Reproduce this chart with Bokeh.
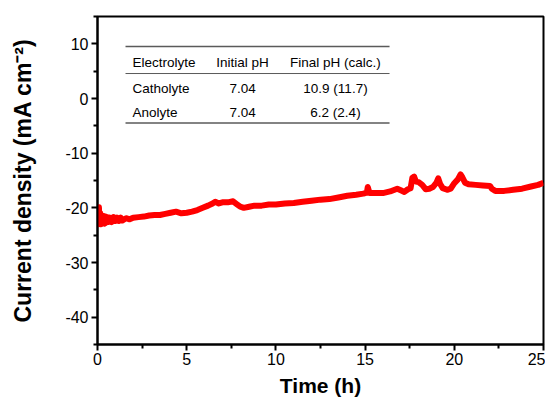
from bokeh.plotting import figure
from bokeh.models import FixedTicker, Range1d
from bokeh.core.properties import value
from bokeh.embed import file_html
from bokeh.resources import INLINE

# ---- data ----
time_h = [0, 0.04, 0.08, 0.12, 0.16, 0.2, 0.25, 0.3, 0.35, 0.4, 0.45, 0.5, 0.55,
          0.6, 0.7, 0.8, 0.9, 1.0, 1.1, 1.2, 1.3, 1.4, 1.6, 1.8, 2.0, 2.3, 2.6,
          2.9, 3.2, 3.5, 3.8, 4.1, 4.4, 4.7,
          5.0, 5.3, 5.6, 5.9, 6.2, 6.45, 6.6, 6.8, 7.0, 7.3, 7.6, 7.8, 8.0, 8.2,
          8.5, 8.8, 9.2, 9.6, 10.0, 10.5, 11.0, 11.5, 12.0, 12.5, 13.0, 13.5,
          14.0, 14.5, 14.9, 15.1, 15.15, 15.25, 15.5, 16.0, 16.4, 16.8, 17.0,
          17.2, 17.4, 17.55, 17.65, 17.75, 17.85, 18.0, 18.2, 18.4, 18.6, 18.8,
          19.0, 19.1, 19.2, 19.35, 19.6, 19.8, 20.0, 20.2, 20.35, 20.45, 20.6,
          20.8, 21.2, 21.6, 22.0, 22.1, 22.3, 22.8, 23.3, 23.8, 24.3, 24.7, 25.0]
current_density = [-21.0, -23.0, -19.9, -22.8, -21.0, -23.0, -21.4, -22.8, -21.5,
                   -22.9, -21.6, -22.7, -21.7, -22.6, -21.8, -22.6, -21.7, -22.4,
                   -21.8, -22.4, -21.8, -22.3, -21.9, -22.1,
                   -21.8, -21.7, -21.6, -21.4, -21.3, -21.3, -21.1, -20.9, -20.7,
                   -21.0, -20.9, -20.7, -20.4, -20.0, -19.6, -19.2, -18.9, -19.2,
                   -19.0, -19.0, -18.8, -19.3, -19.8, -20.0, -19.8, -19.6, -19.6,
                   -19.4, -19.4, -19.2, -19.1, -18.9, -18.7, -18.5, -18.4, -18.1,
                   -17.8, -17.6, -17.4, -17.2, -16.2, -17.3, -17.3, -17.3, -17.0,
                   -16.5, -16.8, -17.1, -16.6, -16.4, -14.5, -14.3, -15.2, -15.3,
                   -15.8, -16.6, -16.5, -16.2, -15.4, -14.6, -15.6, -16.4, -16.7,
                   -16.5, -15.5, -14.8, -13.9, -14.4, -15.4, -15.7, -15.8, -15.9,
                   -16.0, -16.5, -16.9, -16.9, -16.7, -16.5, -16.1, -15.8, -15.4]

x_ticks = [0, 5, 10, 15, 20, 25]
x_minor = [2.5, 7.5, 12.5, 17.5, 22.5]
y_ticks = [-40, -30, -20, -10, 0, 10]
y_minor = [-45, -35, -25, -15, -5, 5, 15]

table_header = ["Electrolyte", "Initial pH", "Final pH (calc.)"]
table_electrolyte = ["Catholyte", "Anolyte"]
table_initial_ph = ["7.04", "7.04"]
table_final_ph = ["10.9 (11.7)", "6.2 (2.4)"]

FONT = "Liberation Sans"

p = figure(width=545, height=399, output_backend="svg", toolbar_location=None,
           x_range=Range1d(0, 25), y_range=Range1d(-45, 15),
           min_border_left=97, min_border_right=2, min_border_top=16,
           min_border_bottom=55)
p.background_fill_color = "white"
p.border_fill_color = "white"
p.outline_line_color = "black"
p.outline_line_width = 2
p.xgrid.visible = False
p.ygrid.visible = False

p.line(time_h, current_density, line_color="#ff0000", line_width=6,
       line_join="round")

for ax in (p.xaxis[0], p.yaxis[0]):
    ax.axis_line_width = 2
    ax.axis_line_color = "black"
    ax.major_tick_line_width = 2
    ax.minor_tick_line_width = 2
    ax.major_tick_out = 6
    ax.major_tick_in = 0
    ax.minor_tick_out = 4
    ax.minor_tick_in = 0
    ax.major_label_text_font = FONT
    ax.major_label_text_font_size = "16px"
    ax.major_label_text_color = "black"
    ax.axis_label_text_font = FONT
    ax.axis_label_text_font_style = "bold"
    ax.axis_label_text_color = "black"

p.xaxis.axis_label_text_font_size = "21px"
p.yaxis.axis_label_text_font_size = "23px"
p.xaxis.ticker = FixedTicker(ticks=x_ticks, minor_ticks=x_minor)
p.yaxis.ticker = FixedTicker(ticks=y_ticks, minor_ticks=y_minor)
p.xaxis.major_label_overrides = {t: str(t) for t in x_ticks}
p.yaxis.major_label_overrides = {t: str(t) for t in y_ticks}
p.xaxis.axis_label = "Time (h)"
p.yaxis.axis_label = "Current density (mA cm\u207b\u00b2)"
p.xaxis.major_label_standoff = 2
p.yaxis.major_label_standoff = 3
p.xaxis.axis_label_standoff = 6
p.yaxis.axis_label_standoff = 26

# ---- inset table ----
line_x0, line_x1 = 1.57, 16.37
rule_y = [9.5, 4.57, -4.5]
rule_w = [1.5, 1.0, 1.5]
for yy, ww in zip(rule_y, rule_w):
    p.segment(x0=line_x0, y0=yy, x1=line_x1, y1=yy, line_color="#5a5a5a",
              line_width=ww)

row_y = [6.59, 1.83, -2.56]
col1_x, col2_x, col3_x = 1.96, 8.13, 13.34
col1 = [table_header[0]] + table_electrolyte
col2 = [table_header[1]] + table_initial_ph
col3 = [table_header[2]] + table_final_ph
for xx, col, align in ((col1_x, col1, "left"), (col2_x, col2, "center"),
                       (col3_x, col3, "center")):
    p.text(x=[xx] * 3, y=row_y, text=col, text_font=value(FONT),
           text_font_size="13.5px", text_align=align, text_baseline="middle",
           text_color="black")

open("out.html", "w").write(file_html(p, INLINE))
